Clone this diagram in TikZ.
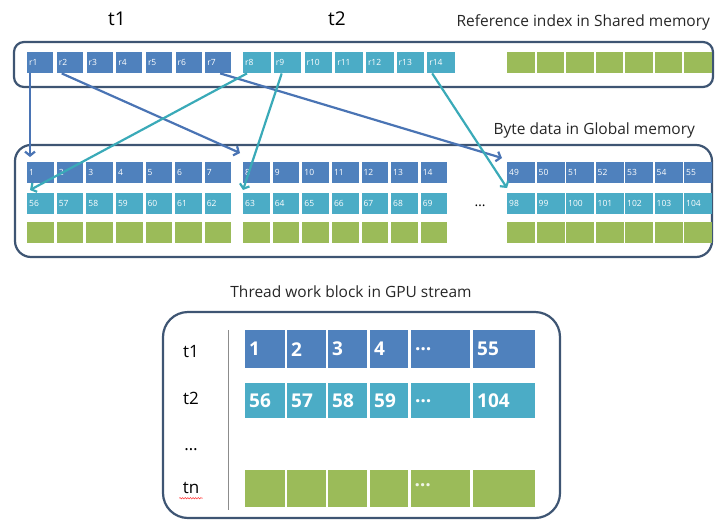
\documentclass[tikz,border=0pt]{standalone}
\usepackage{fontspec}
\setmainfont{Open Sans}
\usetikzlibrary{arrows.meta}
\usetikzlibrary{positioning}
\usetikzlibrary{decorations.pathmorphing}
\definecolor{cblue}{HTML}{4F81BD}
\definecolor{cteal}{HTML}{4BACC6}
\definecolor{cgreen}{HTML}{9BBB59}
\definecolor{framec}{HTML}{3E5573}
\definecolor{ablue}{HTML}{4A74B4}
\definecolor{ateal}{HTML}{3AAAB8}
\tikzset{cell/.style={anchor=north west,inner xsep=2pt,inner ysep=0pt,text=white,align=left,
    font=\fontsize{8.5}{9}\selectfont,minimum height=21pt,text width=#1}}
\tikzset{bigcell/.style={anchor=north west,inner xsep=4pt,inner ysep=0pt,text=white,align=left,
    font=\fontsize{19}{20}\selectfont\bfseries,minimum height=#1}}
\tikzset{memframe/.style={draw=framec,line width=2.2pt}}
\tikzset{darrow/.style={draw=ablue,line width=2.2pt,-{Straight Barb[length=4pt,width=10pt]}}}
\tikzset{tarrow/.style={draw=ateal,line width=2.2pt,-{Straight Barb[length=4pt,width=10pt]}}}
\tikzset{caption/.style={anchor=west,font=\fontsize{15.5}{17}\selectfont,text=black!85}}

\begin{document}
\begin{tikzpicture}[x=1pt,y=-1pt]
\useasboundingbox (0,0) rectangle (715,520);
% frames
\draw[memframe,rounded corners=10pt] (14,42) rectangle (713,87);
\draw[memframe,rounded corners=16pt] (15,145) rectangle (712,257);
\draw[memframe,rounded corners=25pt] (163,312) rectangle (560,518);

% titles
\node[font=\fontsize{19}{20}\selectfont] (t1head) at (117,19) {t1};
\node[font=\fontsize{19}{20}\selectfont] (t2head) at (337,19) {t2};
\node[caption] (shared) at (453,22) {Reference index in Shared memory};
\node[caption] (global) at (490,130) {Byte data in Global memory};
\node[caption,anchor=center] (stream) at (351,292) {Thread work block in GPU stream};

% reference index cells
\foreach \i in {1,...,7}
  \node[cell=22pt,fill=cblue] (r\i) at ({27+29.7*(\i-1)},52) {r\i};
\foreach \i in {8,...,14}
  \node[cell=23.5pt,fill=cteal] (r\i) at ({243+30.7*(\i-8)},52) {r\i};
\foreach \k in {0,...,6}
  \node[cell=23.5pt,fill=cgreen] (sg\k) at ({507+29.5*\k},52) {};

% byte data cells
\foreach \i in {1,...,7} {
  \pgfmathtruncatemacro\j{\i+55}
  \node[cell=22.5pt,fill=cblue] (b\i) at ({27+29.6*(\i-1)},162) {\i};
  \node[cell=22.5pt,fill=cteal] (b\j) at ({27+29.6*(\i-1)},193) {\j};
  \node[cell=22.5pt,fill=cgreen] (ga\i) at ({27+29.6*(\i-1)},222) {};
}
\foreach \i in {8,...,14} {
  \pgfmathtruncatemacro\j{\i+55}
  \node[cell=22.5pt,fill=cblue] (b\i) at ({243+29.6*(\i-8)},162) {\i};
  \node[cell=22.5pt,fill=cteal] (b\j) at ({243+29.6*(\i-8)},193) {\j};
  \node[cell=22.5pt,fill=cgreen] (gb\i) at ({243+29.6*(\i-8)},222) {};
}
\foreach \i in {49,...,55} {
  \pgfmathtruncatemacro\j{\i+49}
  \node[cell=24pt,fill=cblue] (b\i) at ({507+29.5*(\i-49)},162) {\i};
  \node[cell=24pt,fill=cteal] (b\j) at ({507+29.5*(\i-49)},193) {\j};
  \node[cell=24pt,fill=cgreen] (gc\i) at ({507+29.5*(\i-49)},222) {};
}
\node[font=\fontsize{14}{16}\selectfont] (gap) at (480,206) {\dots};

% index arrows
\draw[darrow] ([xshift=3pt]r1.south west) -- ([xshift=3pt,yshift=5pt]b1.north west);
\draw[darrow] ([xshift=5pt]r2.south west) -- ([xshift=-3pt,yshift=9pt]b8.north west);
\draw[darrow] ([xshift=15pt]r7.south west) -- ([xshift=-5pt,yshift=4pt]b49.north west);
\draw[tarrow] ([xshift=4pt]r8.south west) -- ([xshift=3pt,yshift=3pt]b56.north west);
\draw[tarrow] ([xshift=8pt]r9.south west) -- ([yshift=3pt]b63.north west);
\draw[tarrow] ([xshift=5pt]r14.south west) -- ([yshift=5pt]b98.north west);

% thread work block
\draw[black!45,line width=0.8pt] (228,330) -- (228,510);
\foreach \lab/\yy in {t1/352,t2/398,\dots/450,tn/488}
  \node[font=\fontsize{17}{18}\selectfont] (lab\yy) at (191,\yy) {\lab};
\draw[red!80,line width=0.5pt,decorate,decoration={snake,amplitude=0.7pt,segment length=2.6pt}]
  ([yshift=-1pt]lab488.south west) -- ([yshift=-1pt]lab488.south east);
\foreach \ta/\tb/\xa/\xb [count=\k] in {1/56/245/285,2/57/287/326,3/58/328/367,4/59/370/408,\dots/\dots/411/470,55/104/473/535} {
  \pgfmathsetmacro\w{\xb-\xa-8}
  \node[bigcell=38pt,fill=cblue,text width=\w pt] (wa\k) at (\xa,330) {\ta};
  \node[bigcell=35pt,fill=cteal,text width=\w pt] (wb\k) at (\xa,383) {\tb};
  \node[bigcell=37pt,fill=cgreen,text width=\w pt] (wn\k) at (\xa,470) {};
}
\node[font=\fontsize{19}{20}\selectfont\bfseries,text=white!85!cgreen,anchor=west] (tndots) at ([xshift=0pt,yshift=4pt]wn5.west) {\dots};
\end{tikzpicture}
\end{document}
